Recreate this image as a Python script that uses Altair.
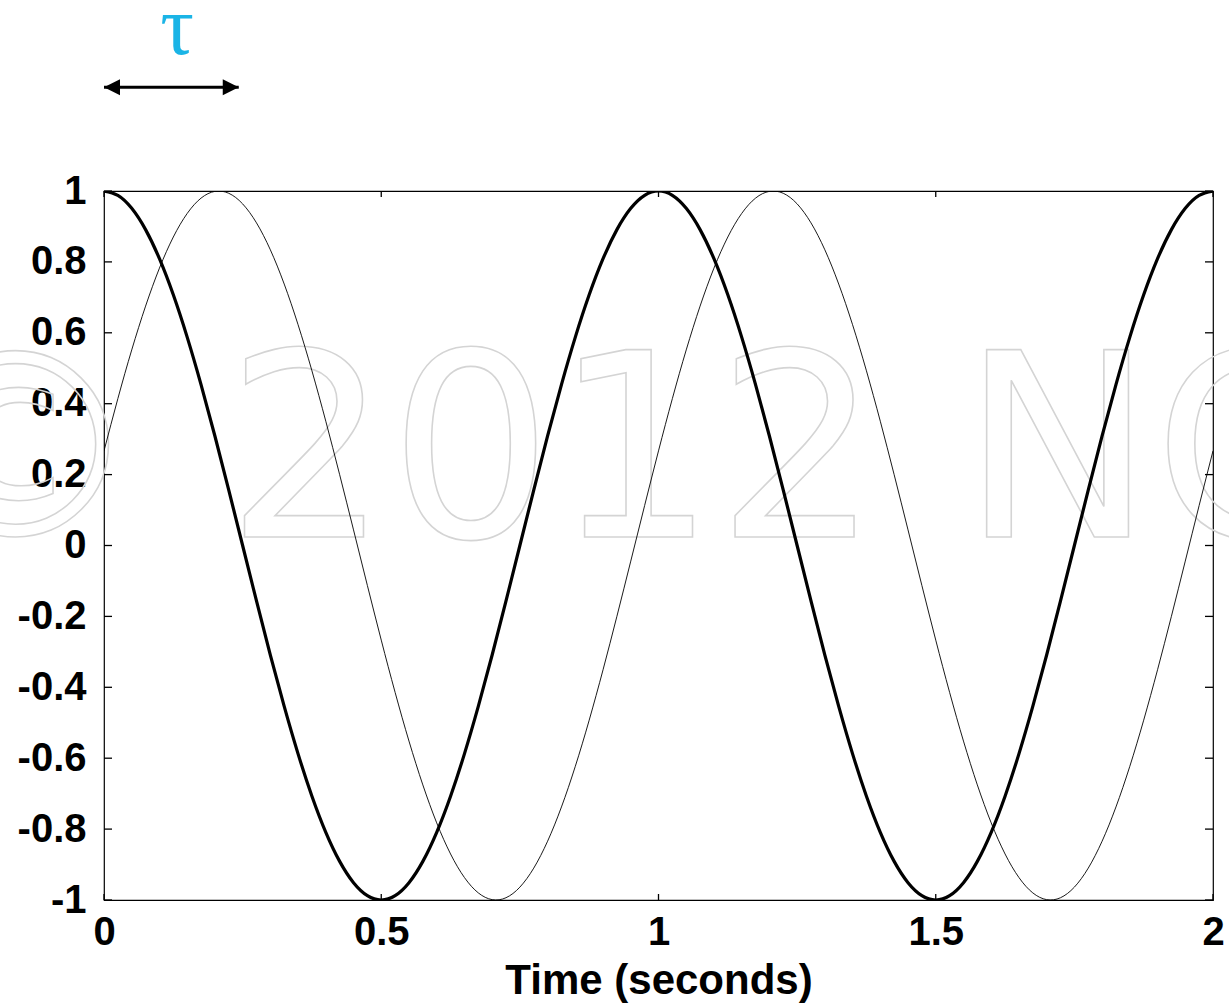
import altair as alt
import pandas as pd

# time samples (seconds)
t = [0.0, 0.025, 0.05, 0.075, 0.1, 0.125, 0.15, 0.175, 0.2, 0.225,
     0.25, 0.275, 0.3, 0.325, 0.35, 0.375, 0.4, 0.425, 0.45, 0.475,
     0.5, 0.525, 0.55, 0.575, 0.6, 0.625, 0.65, 0.675, 0.7, 0.725,
     0.75, 0.775, 0.8, 0.825, 0.85, 0.875, 0.9, 0.925, 0.95, 0.975,
     1.0, 1.025, 1.05, 1.075, 1.1, 1.125, 1.15, 1.175, 1.2, 1.225,
     1.25, 1.275, 1.3, 1.325, 1.35, 1.375, 1.4, 1.425, 1.45, 1.475,
     1.5, 1.525, 1.55, 1.575, 1.6, 1.625, 1.65, 1.675, 1.7, 1.725,
     1.75, 1.775, 1.8, 1.825, 1.85, 1.875, 1.9, 1.925, 1.95, 1.975, 2.0]

# thick curve (reference signal)
thick = [1.0, 0.9877, 0.9511, 0.891, 0.809, 0.7071, 0.5878, 0.454, 0.309, 0.1564,
         0.0, -0.1564, -0.309, -0.454, -0.5878, -0.7071, -0.809, -0.891, -0.9511, -0.9877,
         -1.0, -0.9877, -0.9511, -0.891, -0.809, -0.7071, -0.5878, -0.454, -0.309, -0.1564,
         0.0, 0.1564, 0.309, 0.454, 0.5878, 0.7071, 0.809, 0.891, 0.9511, 0.9877,
         1.0, 0.9877, 0.9511, 0.891, 0.809, 0.7071, 0.5878, 0.454, 0.309, 0.1564,
         0.0, -0.1564, -0.309, -0.454, -0.5878, -0.7071, -0.809, -0.891, -0.9511, -0.9877,
         -1.0, -0.9877, -0.9511, -0.891, -0.809, -0.7071, -0.5878, -0.454, -0.309, -0.1564,
         0.0, 0.1564, 0.309, 0.454, 0.5878, 0.7071, 0.809, 0.891, 0.9511, 0.9877, 1.0]

# thin curve (delayed signal)
thin = [0.2669, 0.4144, 0.5517, 0.6753, 0.7824, 0.8702, 0.9366, 0.9799, 0.999, 0.9936,
        0.9637, 0.9101, 0.8341, 0.7375, 0.6228, 0.4927, 0.3505, 0.1997, 0.044, -0.1128,
        -0.2669, -0.4144, -0.5517, -0.6753, -0.7824, -0.8702, -0.9366, -0.9799, -0.999, -0.9936,
        -0.9637, -0.9101, -0.8341, -0.7375, -0.6228, -0.4927, -0.3505, -0.1997, -0.044, 0.1128,
        0.2669, 0.4144, 0.5517, 0.6753, 0.7824, 0.8702, 0.9366, 0.9799, 0.999, 0.9936,
        0.9637, 0.9101, 0.8341, 0.7375, 0.6228, 0.4927, 0.3505, 0.1997, 0.044, -0.1128,
        -0.2669, -0.4144, -0.5517, -0.6753, -0.7824, -0.8702, -0.9366, -0.9799, -0.999, -0.9936,
        -0.9637, -0.9101, -0.8341, -0.7375, -0.6228, -0.4927, -0.3505, -0.1997, -0.044, 0.1128, 0.2669]

x_ticks = [0.0, 0.5, 1.0, 1.5, 2.0]
y_ticks = [-1.0, -0.8, -0.6, -0.4, -0.2, 0.0, 0.2, 0.4, 0.6, 0.8, 1.0]

# tau annotation (data units)
arrow_x = [0.0, 0.243]
arrow_y = 1.293
tau_x = 0.132
tau_y = 1.458
tau_label = "τ"
watermark = "© 2012 NC"

W, H = 1109, 709

df = pd.DataFrame({"t": t, "thick": thick, "thin": thin})

xs = alt.Scale(domain=[0, 2], nice=False, zero=False)
ys = alt.Scale(domain=[-1, 1], nice=False, zero=False)

xaxis = alt.Axis(values=x_ticks, title="Time (seconds)", ticks=False, domain=False, grid=False,
                 labelFont="Liberation Sans", labelFontWeight="bold", labelFontSize=40,
                 labelColor="black", labelPadding=12, labelFlush=False, labelOverlap=False,
                 labelExpr="toString(datum.value)",
                 titleFont="Liberation Sans", titleFontWeight="bold", titleFontSize=42,
                 titleColor="black", titlePadding=8)
yaxis = alt.Axis(values=y_ticks, title=None, ticks=False, domain=False, grid=False,
                 labelFont="Liberation Sans", labelFontWeight="bold", labelFontSize=40,
                 labelColor="black", labelPadding=18, labelFlush=False, labelOverlap=False,
                 labelExpr="toString(round(datum.value*10)/10)")

base = alt.Chart(df)

wm = alt.Chart(pd.DataFrame({"txt": [watermark]})).mark_text(
    font="DejaVu Sans", fontSize=257, align="left", baseline="alphabetic",
    fillOpacity=0, stroke="#d4d4d4", strokeWidth=1.6
).encode(x=alt.value(-217), y=alt.value(346), text="txt:N")

thin_line = base.mark_line(color="black", strokeWidth=0.9, interpolate="natural", clip=True).encode(
    x=alt.X("t:Q", scale=xs, axis=xaxis),
    y=alt.Y("thin:Q", scale=ys, axis=yaxis),
)
thick_line = base.mark_line(color="black", strokeWidth=3.2, interpolate="natural", clip=True).encode(
    x=alt.X("t:Q", scale=xs),
    y=alt.Y("thick:Q", scale=ys),
)

ydf = pd.DataFrame({"v": y_ticks})
xdf = pd.DataFrame({"v": x_ticks})
tick_l = alt.Chart(ydf).mark_rule(color="black", strokeWidth=1.3).encode(
    y=alt.Y("v:Q", scale=ys), x=alt.value(0), x2=alt.value(8))
tick_r = alt.Chart(ydf).mark_rule(color="black", strokeWidth=1.3).encode(
    y=alt.Y("v:Q", scale=ys), x=alt.value(W - 8), x2=alt.value(W))
tick_b = alt.Chart(xdf).mark_rule(color="black", strokeWidth=1.3).encode(
    x=alt.X("v:Q", scale=xs), y=alt.value(H - 6), y2=alt.value(H))
tick_t = alt.Chart(xdf).mark_rule(color="black", strokeWidth=1.3).encode(
    x=alt.X("v:Q", scale=xs), y=alt.value(0), y2=alt.value(6))

adf = pd.DataFrame({"x0": [arrow_x[0]], "x1": [arrow_x[1]], "y": [arrow_y]})
arrow_line = alt.Chart(adf).mark_rule(color="black", strokeWidth=3, clip=False).encode(
    x=alt.X("x0:Q", scale=xs), x2="x1:Q", y=alt.Y("y:Q", scale=ys))
head_l = alt.Chart(adf).mark_point(shape="M0,0L2,-1L2,1Z", size=256, filled=True, color="black",
                                   opacity=1, clip=False).encode(
    x=alt.X("x0:Q", scale=xs), y=alt.Y("y:Q", scale=ys))
head_r = alt.Chart(adf).mark_point(shape="M0,0L-2,-1L-2,1Z", size=256, filled=True, color="black",
                                   opacity=1, clip=False).encode(
    x=alt.X("x1:Q", scale=xs), y=alt.Y("y:Q", scale=ys))
tau = alt.Chart(pd.DataFrame({"x": [tau_x], "y": [tau_y], "txt": [tau_label]})).mark_text(
    font="Liberation Serif", fontSize=84, color="#1ab4e6", align="center", baseline="middle", clip=False
).encode(x=alt.X("x:Q", scale=xs), y=alt.Y("y:Q", scale=ys), text="txt:N")

chart = alt.layer(
    wm, thin_line, thick_line, tick_l, tick_r, tick_b, tick_t,
    arrow_line, head_l, head_r, tau
).properties(
    width=W, height=H,
    autosize=alt.AutoSizeParams(type="none"),
    padding={"left": 104, "top": 191, "right": 16, "bottom": 105},
    background="white",
).configure_view(stroke="black", strokeWidth=1.2)

chart.save("out.html", embed_options={"renderer": "svg", "actions": False})
